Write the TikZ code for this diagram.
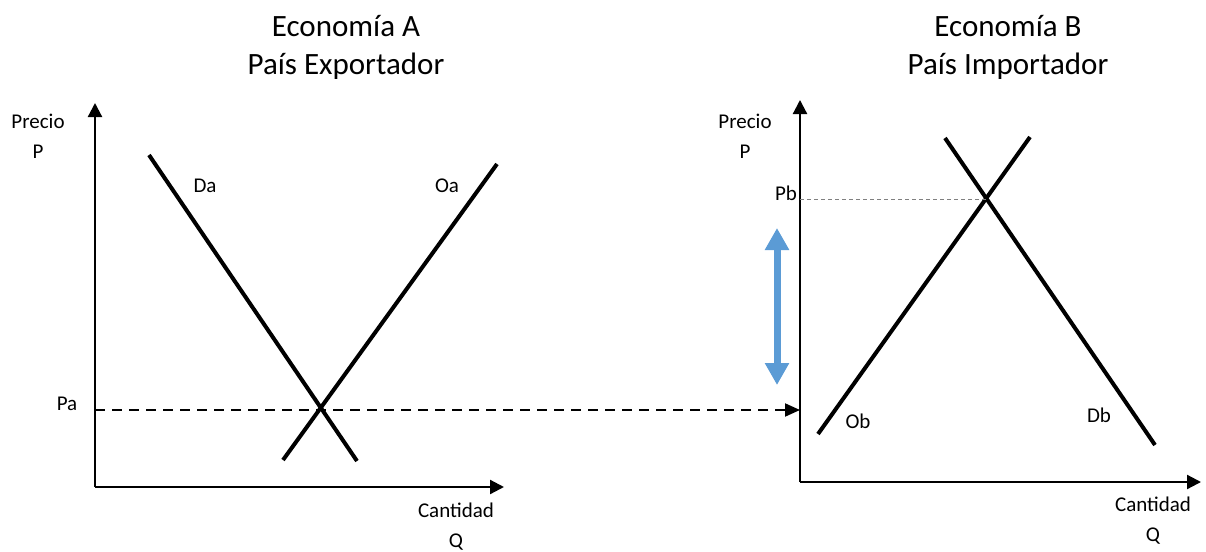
\documentclass[tikz,border=0pt]{standalone}
\usepackage{fontspec}
\setmainfont{Carlito}
\usepackage{tikz}
\usetikzlibrary{arrows.meta, calc, positioning}
\definecolor{flecha}{RGB}{91,155,213}

\begin{document}
\begin{tikzpicture}[x=1pt, y=-1pt,
  axis/.style={line width=2.2pt, -{Triangle[length=14pt,width=14pt]}},
  curve/.style={line width=4pt},
  lbl/.style={font=\fontsize{21}{30}\selectfont, align=center, inner sep=0pt},
  titulo/.style={font=\fontsize{31}{38}\selectfont, align=center, inner sep=0pt}]
\useasboundingbox (0,0) rectangle (1206,551);
% economia A
\coordinate (oA) at (95,487);
\draw[axis] (oA)--(95,103);
\draw[axis] (oA)--(504,487);
\draw[curve] (149,155)--(357,461);
\draw[curve] (497,164)--(283,460);
\coordinate (eA) at (321,410);
\node[titulo] (titA) at (346,47) {Economía A\\País Exportador};
\node[lbl] (precioA) at (38,136) {Precio\\P};
\node[lbl] (cantA) at (456,527) {Cantidad\\Q};
\node[lbl] (Da) at (205,186) {Da};
\node[lbl] (Oa) at (447,186) {Oa};
\node[lbl] (Pa) at (67,404) {Pa};
% economia B
\coordinate (oB) at (800,482);
\draw[axis] (oB)--(800,100);
\draw[axis] (oB)--(1201,482);
\draw[curve] (818,434)--(1030,137);
\draw[curve] (945,138)--(1155,445);
\coordinate (eB) at (986,199);
\node[titulo] (titB) at (1008,47) {Economía B\\País Importador};
\node[lbl] (precioB) at (745,136) {Precio\\P};
\node[lbl] (cantB) at (1153,521) {Cantidad\\Q};
\node[lbl] (Ob) at (858,421) {Ob};
\node[lbl] (Db) at (1099,415) {Db};
\node[lbl] (Pb) at (786,193) {Pb};
% precios
\coordinate (paB) at (800,410);
\draw[line width=2pt, dash pattern=on 10pt off 7pt, -{Triangle[length=15pt,width=13pt]}] (95,410)--(paB);
\draw[line width=1pt, gray, dash pattern=on 4pt off 3pt] (800,199)--(eB);
\draw[flecha, line width=7pt, {Triangle[length=22pt,width=23pt]}-{Triangle[length=22pt,width=23pt]}] (777,228)--(777,385);
\end{tikzpicture}
\end{document}
